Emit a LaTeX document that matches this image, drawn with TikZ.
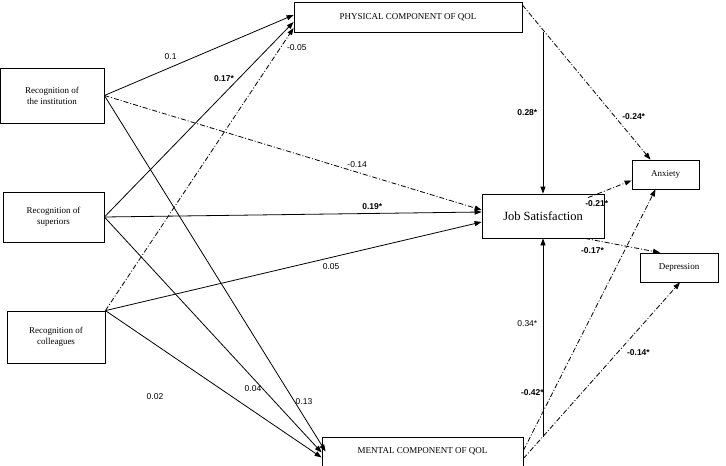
\documentclass[tikz,border=0pt]{standalone}
\usepackage{fontspec}
\setmainfont{Liberation Serif}
\newfontfamily\lab{Liberation Sans}
\usetikzlibrary{arrows.meta}
\begin{document}
\begin{tikzpicture}[x=1pt,y=-1pt,
  box/.style={draw,thick,minimum width=#1,inner sep=1pt,align=center,font=\fontsize{9}{11}\selectfont},
  arr/.style={thick,-{Triangle[length=7pt,width=5pt]}},
  dd/.style={arr,dash pattern=on 5pt off 2pt on 1pt off 2pt},
  lb/.style={font=\lab\fontsize{8.5}{10}\selectfont},
  lbb/.style={font=\lab\bfseries\fontsize{8.5}{10}\selectfont}]
\useasboundingbox (0,0) rectangle (726,466);
\node[box=228pt,minimum height=30pt] (phys) at (408,17) {PHYSICAL COMPONENT OF QOL};
\node[box=201pt,minimum height=29pt] (ment) at (422.5,451.5) {MENTAL COMPONENT OF QOL};
\node[box=104pt,minimum height=55pt] (inst) at (52,95.5) {Recognition of\\the institution};
\node[box=101pt,minimum height=50pt] (sup) at (53.5,217) {Recognition of\\superiors};
\node[box=98pt,minimum height=52pt] (col) at (56,337) {Recognition of\\colleagues};
\node[box=122pt,minimum height=44pt,font=\fontsize{12.5}{14}\selectfont] (js) at (543,216) {Job Satisfaction};
\node[box=67pt,minimum height=29pt] (anx) at (665.5,174.5) {Anxiety};
\node[box=78pt,minimum height=29pt] (dep) at (679,267.5) {Depression};

\draw[arr] ([yshift=0pt]inst.east) -- ([yshift=2pt]phys.west) node[lb,pos=0.35,above=4pt]{0.1};
\draw[arr] (inst.east) -- ([xshift=4pt]ment.south west |- ment.west);
\draw[dd] (inst.east) -- ([yshift=6pt]js.west) node[lb,pos=0.67,above=1pt]{-0.14};
\draw[arr] (sup.east) -- ([yshift=-5pt]phys.west) node[lbb,pos=0.71,left=1pt]{0.17*};
\draw[arr] (sup.east) -- ([yshift=4pt]js.west) node[lbb,pos=0.71,above=0pt]{0.19*};
\draw[arr] (sup.east) -- ([yshift=-1pt]ment.west);
\draw[dd] (col.north east) -- ([yshift=-11pt]phys.west) node[lb,pos=0.93,right=3pt]{-0.05};
\draw[arr] (col.north east) -- ([yshift=-6pt]js.west) node[lb,pos=0.6,below=2pt]{0.05};
\draw[arr] (col.north east) -- ([yshift=-6pt]ment.west);
\node[lb] (l002) at (155,397) {0.02};
\node[lb] (l004) at (253,389) {0.04};
\node[lb] (l013) at (304,402) {0.13};
\draw[arr] (phys.south -| js.north) -- (js.north) node[lbb,midway,left=2pt]{0.28*};
\draw[arr] (ment.north -| js.south) -- (js.south) node[lb,pos=0.57,left=2pt]{0.34*};
\draw[dd] ([yshift=12pt]phys.east) -- ([xshift=-15pt]anx.north) node[lbb,pos=0.72,right=4pt]{-0.24*};
\draw[dd] ([xshift=45pt,yshift=-4pt]js.north) -- ([yshift=-6pt]anx.west) node[lbb,pos=0.2,below=3pt]{-0.21*};
\draw[dd] ([xshift=42pt]js.south) -- ([xshift=-19pt]dep.north) node[lbb,pos=0.1,below=4pt]{-0.17*};
\draw[dd] ([yshift=1pt]ment.east) -- ([xshift=-10pt]anx.south) node[lbb,pos=0.22,left=5pt]{-0.42*};
\draw[dd] ([yshift=-7pt]ment.east) -- ([xshift=1pt]dep.south) node[lbb,pos=0.6,right=6pt]{-0.14*};
\end{tikzpicture}
\end{document}
